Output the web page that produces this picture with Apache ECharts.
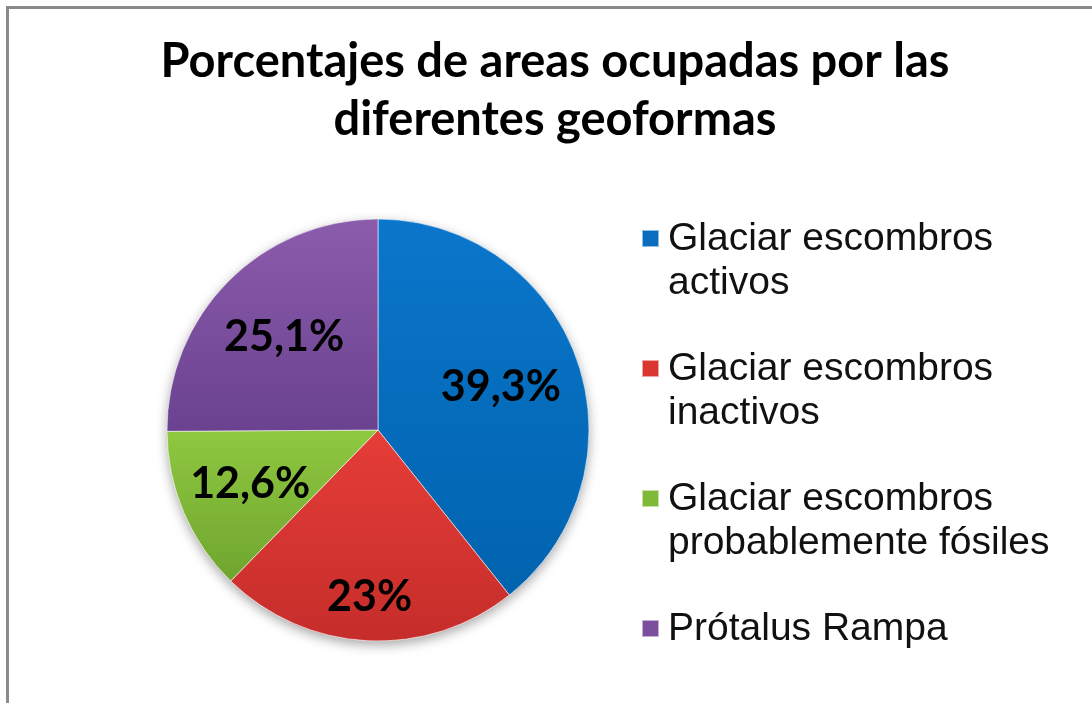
<!DOCTYPE html>
<html>
<head>
<meta charset="utf-8">
<script src="https://cdn.jsdelivr.net/npm/echarts@6/dist/echarts.min.js"></script>
<style>
  html, body { margin: 0; padding: 0; background: #fff; }
  #main { width: 1092px; height: 703px; }
</style>
</head>
<body>
<div id="main"></div>
<script>
// datos del gráfico
var categories = ['Glaciar escombros activos', 'Glaciar escombros inactivos', 'Glaciar escombros probablemente fósiles', 'Prótalus Rampa']
var values = [39.3, 23, 12.6, 25.1]
var colorsTop = ['#0B76CB', '#E63D38', '#8FC840', '#8B5CAB']
var colorsBottom = ['#0063AE', '#C52D2A', '#6FA52F', '#6A4290']
var legendColors = ['#0A6DBE', '#DA3531', '#80B838', '#7B4E9E']
// radio relativo donde va cada etiqueta
var labelRadius = [0.60, 0.77, 0.64, 0.61]

var cx = 378, cy = 430, R = 211

var myChart = echarts.init(document.getElementById('main'))

var pieData = categories.map(function (name, i) {
  return {
    name: name,
    value: values[i],
    itemStyle: {
      color: new echarts.graphic.LinearGradient(0, 0, 0, 1, [
        { offset: 0, color: colorsTop[i] },
        { offset: 1, color: colorsBottom[i] }
      ])
    }
  }
})

var iconPath = 'path://M0,0M0,13h17v17h-17zM21,88'
var legendData = categories.map(function (name, i) {
  return { name: name, icon: iconPath, itemStyle: { color: legendColors[i] } }
})

var option = {
  animation: false,
  backgroundColor: '#fff',
  graphic: [{
    type: 'polyline',
    silent: true,
    shape: { points: [[7.5, 703], [7.5, 7.5], [1092, 7.5]] },
    style: { stroke: '#8a8a8a', lineWidth: 3, fill: null }
  }],
  title: {
    text: 'Porcentajes de areas ocupadas por las\ndiferentes geoformas',
    left: 555,
    top: 33,
    padding: 0,
    textAlign: 'center',
    textStyle: {
      fontFamily: 'Lato',
      fontWeight: 'bold',
      fontSize: 47,
      lineHeight: 58,
      color: '#000'
    }
  },
  legend: {
    orient: 'vertical',
    left: 641,
    top: 216,
    padding: 0,
    itemWidth: 21,
    itemHeight: 88,
    itemGap: 40,
    selectedMode: false,
    data: legendData,
    formatter: function (name) {
      if (name.indexOf('escombros ') >= 0) return name.replace('escombros ', 'escombros\n')
      return name + '\n '
    },
    textStyle: {
      fontFamily: 'Liberation Sans',
      fontSize: 39,
      lineHeight: 44,
      color: '#111'
    }
  },
  series: [
    {
      // sombra bajo el círculo
      type: 'pie',
      silent: true,
      center: [cx, cy],
      radius: R,
      label: { show: false },
      data: [{ value: 1, name: '' }],
      itemStyle: {
        color: '#fff',
        shadowBlur: 12,
        shadowOffsetY: 4,
        shadowColor: 'rgba(0,0,0,0.35)'
      }
    },
    {
      name: 'geoformas',
      type: 'pie',
      center: [cx, cy],
      radius: R,
      startAngle: 90,
      clockwise: true,
      data: pieData,
      itemStyle: {
        borderColor: 'rgba(255,255,255,0.55)',
        borderWidth: 1
      },
      label: {
        show: true,
        position: 'inside',
        formatter: function (p) {
          return String(p.value).replace('.', ',') + '%'
        },
        fontFamily: 'Lato',
        fontWeight: 'bold',
        fontSize: 43,
        color: '#000'
      },
      labelLine: { show: false },
      labelLayout: function (params) {
        var rect = params.labelRect
        var lx = rect.x + rect.width / 2
        var ly = rect.y + rect.height / 2
        var f = labelRadius[params.dataIndex] / 0.5
        return { dx: (lx - cx) * (f - 1), dy: (ly - cy) * (f - 1) }
      }
    }
  ]
}

myChart.setOption(option)
</script>
</body>
</html>
